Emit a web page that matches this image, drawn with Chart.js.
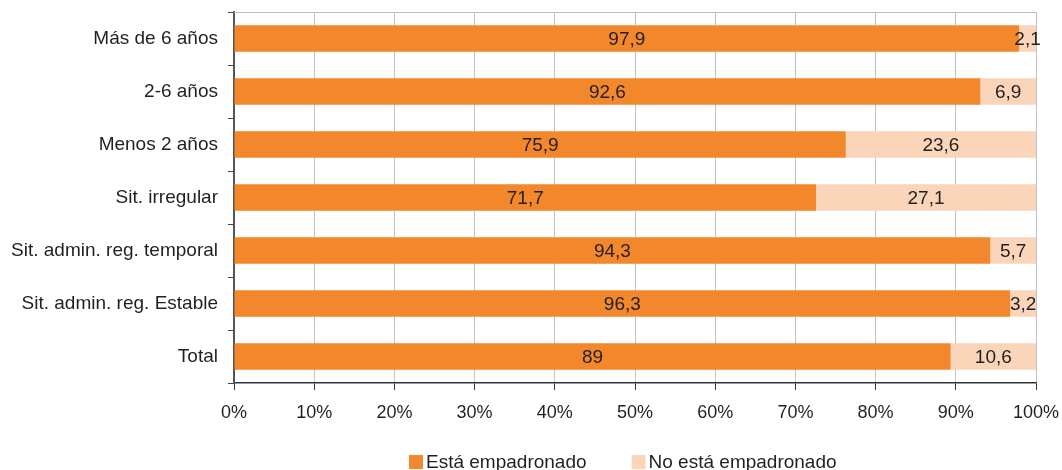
<!DOCTYPE html>
<html>
<head>
<meta charset="utf-8">
<script src="https://cdn.jsdelivr.net/npm/chart.js@4.4.0/dist/chart.umd.min.js"></script>
<style>
  html, body { margin: 0; padding: 0; background: #fff; }
  #wrap { width: 1062px; height: 470px; }
</style>
</head>
<body>
<div id="wrap"><canvas id="myChart" width="1062" height="470"></canvas></div>
<script>
// Chart data
var categories = ['Más de 6 años', '2-6 años', 'Menos 2 años', 'Sit. irregular',
    'Sit. admin. reg. temporal', 'Sit. admin. reg. Estable', 'Total'];
var empadronado = [97.9, 92.6, 75.9, 71.7, 94.3, 96.3, 89];
var noEmpadronado = [2.1, 6.9, 23.6, 27.1, 5.7, 3.2, 10.6];
var seriesNames = ['Está empadronado', 'No está empadronado'];
var xTicks = [0, 10, 20, 30, 40, 50, 60, 70, 80, 90, 100];

var ORANGE = '#F3872B';
var PEACH = '#FAD5BA';
var TEXT = '#231F20';
var FONT = "'Liberation Sans', Arial, Helvetica, sans-serif";

// bars are drawn as share of the row total (100% stacked)
function share(a, b) {
    return a.map(function (v, i) { return v / (a[i] + b[i]) * 100; });
}

// value labels in the middle of each segment
var valueLabels = {
    id: 'valueLabels',
    afterDatasetsDraw: function (chart) {
        var ctx = chart.ctx;
        ctx.save();
        ctx.font = '19px ' + FONT;
        ctx.fillStyle = TEXT;
        ctx.textAlign = 'center';
        ctx.textBaseline = 'middle';
        chart.data.datasets.forEach(function (ds, di) {
            var meta = chart.getDatasetMeta(di);
            meta.data.forEach(function (bar, i) {
                var txt = String(ds.raw[i]).replace('.', ',');
                ctx.fillText(txt, (bar.x + bar.base) / 2, bar.y + 1);
            });
        });
        ctx.restore();
    }
};

// top frame line + legend below the axis
var frameAndLegend = {
    id: 'frameAndLegend',
    afterDraw: function (chart) {
        var ctx = chart.ctx;
        var area = chart.chartArea;
        ctx.save();
        ctx.strokeStyle = '#BDBDBD';
        ctx.lineWidth = 1;
        ctx.beginPath();
        ctx.moveTo(area.left, area.top + 0.5);
        ctx.lineTo(area.right, area.top + 0.5);
        ctx.stroke();

        // legend
        ctx.font = '19px ' + FONT;
        ctx.textBaseline = 'middle';
        ctx.textAlign = 'left';
        var x = 409;
        var y = 462;
        chart.data.datasets.forEach(function (ds, di) {
            ctx.fillStyle = ds.backgroundColor;
            ctx.fillRect(x, y - 7, 14, 14);
            ctx.fillStyle = TEXT;
            ctx.fillText(ds.label, x + 17, y + 1);
            x += 17 + ctx.measureText(ds.label).width + 45;
        });
        ctx.restore();
    }
};

const ctx = document.getElementById('myChart').getContext('2d');
const myChart = new Chart(ctx, {
    type: 'bar',
    data: {
        labels: categories,
        datasets: [{
            label: seriesNames[0],
            data: share(empadronado, noEmpadronado),
            raw: empadronado,
            backgroundColor: ORANGE,
            barPercentage: 0.5,
            categoryPercentage: 1
        }, {
            label: seriesNames[1],
            data: share(noEmpadronado, empadronado),
            raw: noEmpadronado,
            backgroundColor: PEACH,
            barPercentage: 0.5,
            categoryPercentage: 1
        }]
    },
    options: {
        indexAxis: 'y',
        responsive: false,
        animation: false,
        layout: { padding: { top: 12, right: 26, left: 0, bottom: 0 } },
        plugins: {
            legend: { display: false },
            tooltip: { enabled: false }
        },
        scales: {
            x: {
                stacked: true,
                min: 0,
                max: 100,
                afterBuildTicks: function (scale) {
                    scale.ticks = xTicks.map(function (v) { return { value: v }; });
                },
                afterFit: function (scale) {
                    scale.height = 87;
                    scale.paddingLeft = 0;
                    scale.paddingRight = 0;
                },
                grid: {
                    color: '#C4C4C4',
                    tickColor: '#333',
                    tickLength: 7,
                    lineWidth: 1
                },
                border: { color: '#333', width: 1.5 },
                ticks: {
                    padding: 12,
                    color: TEXT,
                    font: { family: FONT, size: 18 },
                    callback: function (v) { return v + '%'; }
                }
            },
            y: {
                stacked: true,
                afterFit: function (scale) {
                    scale.width = 234;
                    scale.paddingTop = 0;
                    scale.paddingBottom = 0;
                },
                grid: {
                    drawOnChartArea: false,
                    tickColor: '#444',
                    tickLength: 6,
                    offset: true
                },
                border: { color: '#555', width: 2 },
                ticks: {
                    padding: 10,
                    color: TEXT,
                    font: { family: FONT, size: 19 }
                }
            }
        }
    },
    plugins: [valueLabels, frameAndLegend]
});
</script>
</body>
</html>
